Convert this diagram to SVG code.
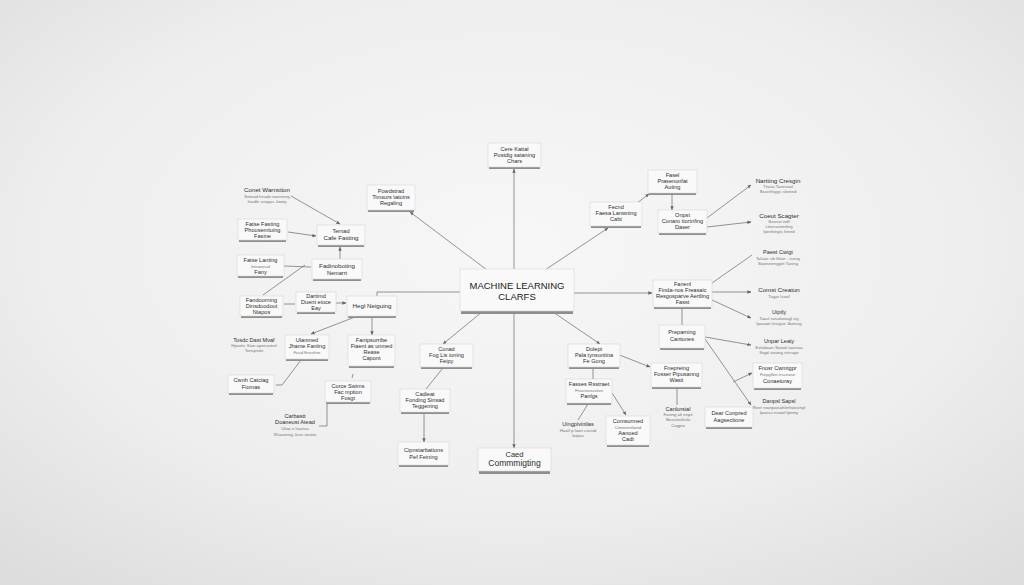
<svg xmlns="http://www.w3.org/2000/svg" width="1024" height="585" viewBox="0 0 1024 585">
<defs>
<radialGradient id="bg" cx="50%" cy="42%" r="75%">
<stop offset="0" stop-color="#f7f7f7"/>
<stop offset="0.6" stop-color="#eeeeee"/>
<stop offset="1" stop-color="#dcdcdc"/>
</radialGradient>
<filter id="blur" x="-10%" y="-50%" width="120%" height="200%"><feGaussianBlur stdDeviation="0.7"/></filter>
<marker id="ar" viewBox="0 0 6 6" refX="5.5" refY="3" markerWidth="5" markerHeight="5" orient="auto">
<path d="M0,0.5 L6,3 L0,5.5 z" fill="#666"/>
</marker>
<style>
.bx{fill:#f9f9f9;stroke:#d6d6d6;stroke-width:0.6}
.sh{fill:#8e8e8e;filter:url(#blur)}
.t{font-family:"Liberation Sans",Arial,sans-serif;font-size:5.6px;fill:#2e2e2e;text-anchor:middle}
.s{font-family:"Liberation Sans",Arial,sans-serif;font-size:4.3px;fill:#777;text-anchor:middle}
.h{font-family:"Liberation Sans",Arial,sans-serif;font-size:6.2px;fill:#2e2e2e;text-anchor:middle}
.c{stroke:#7a7a7a;stroke-width:0.8;fill:none}
.ca{stroke:#7a7a7a;stroke-width:0.8;fill:none;marker-end:url(#ar)}
</style>
</defs>
<rect width="1024" height="585" fill="url(#bg)"/>

<g id="connectors">
<path class="ca" d="M514,270 L514,169"/>
<path class="ca" d="M487,270 L410,212"/>
<path class="ca" d="M545,270 L608,228"/>
<path class="c" d="M460,292 L377,292 L377,297"/>
<path class="ca" d="M482,312 L443,344"/>
<path class="ca" d="M514,312 L514,448"/>
<path class="ca" d="M553,312 L600,344"/>
<path class="ca" d="M574,293 L652,293"/>
<path class="ca" d="M637,203 L649,194"/>
<path class="ca" d="M672,194 L672,210"/>
<path class="ca" d="M707,218 L751,185"/>
<path class="ca" d="M707,227 L751,222"/>
<path class="c" d="M712,283 L752,255"/>
<path class="ca" d="M712,292 L751,292"/>
<path class="ca" d="M712,300 L751,318"/>
<path class="c" d="M682,308 L682,325"/>
<path class="ca" d="M705,337 L751,345"/>
<path class="ca" d="M705,339 L751,405"/>
<path class="ca" d="M733,382 L752,373"/>
<path class="ca" d="M612,352 L650,367"/>
<path class="c" d="M593,368 L593,379"/>
<path class="c" d="M588,404 L578,420"/>
<path class="ca" d="M612,393 L626,415"/>
<path class="c" d="M677,388 L677,405"/>
<path class="c" d="M443,368 L426,389"/>
<path class="ca" d="M424,413 L424,442"/>
<path class="ca" d="M372,317 L372,335"/>
<path class="ca" d="M355,317 L311,334"/>
<path class="ca" d="M336,303 L346,303"/>
<path class="c" d="M284,304 L295,304"/>
<path class="c" d="M284,266 L311,267"/>
<path class="c" d="M305,265 L263,295"/>
<path class="ca" d="M340,259 L340,247"/>
<path class="ca" d="M288,232 L316,236"/>
<path class="ca" d="M291,196 L340,224"/>
<path class="c" d="M301,360 L282,385 L276,385"/>
<path class="c" d="M327,403 L327,426 L319,426"/>
<path class="c" d="M353,374 L352,378"/>
</g>

<g id="center">
<rect class="sh" x="461" y="309" width="112" height="5"/>
<rect class="bx" x="460" y="269" width="114" height="42"/>
<text class="t" x="517" y="289" style="font-size:9.5px;fill:#222">MACHINE LEARNING</text>
<text class="t" x="517" y="300" style="font-size:9.5px;fill:#222">CLARFS</text>
</g>

<g id="n1"><rect class="sh" x="489" y="165" width="51" height="4"/><rect class="bx" x="488" y="143" width="53" height="24"/>
<text class="t" x="514.5" y="151">Cere Kattal</text><text class="t" x="514.5" y="157">Postdig sataning</text><text class="t" x="514.5" y="163">Chars</text></g>
<g id="n2"><rect class="sh" x="368" y="208" width="46" height="4"/><rect class="bx" x="367" y="185" width="48" height="25"/>
<text class="t" x="391" y="193">Powdstrad</text><text class="t" x="391" y="199">Timsurs tatoins</text><text class="t" x="391" y="205">Regaling</text></g>
<g id="n3"><rect class="sh" x="318" y="243" width="46" height="4"/><rect class="bx" x="317" y="225" width="48" height="20"/>
<text class="t" x="341" y="233">Ternad</text><text class="h" x="341" y="240">Cafe Fasting</text></g>
<g id="n4"><rect class="sh" x="313" y="277" width="48" height="4"/><rect class="bx" x="312" y="259" width="50" height="20"/>
<text class="h" x="337" y="268">Fadinoboting</text><text class="t" x="337" y="275">Nemarrt</text></g>
<g id="n5"><rect class="sh" x="239" y="238" width="47" height="4"/><rect class="bx" x="238" y="219" width="49" height="21"/>
<text class="t" x="262.5" y="226">Fatse Fasting</text><text class="t" x="262.5" y="232">Phousemtuing</text><text class="t" x="262.5" y="238">Fasine</text></g>
<g id="n6"><rect class="sh" x="238" y="274" width="45" height="4"/><rect class="bx" x="237" y="255" width="47" height="21"/>
<text class="t" x="260.5" y="262">Fatse Lanting</text><text class="s" x="260.5" y="268">Intraoesaf</text><text class="t" x="260.5" y="274">Fany</text></g>
<g id="n7"><text class="h" x="267" y="192">Conet Warnstion</text><text class="s" x="267" y="198">Smead heade warninng</text><text class="s" x="267" y="203">Inadle coagas Jowty</text></g>
<g id="n8"><rect class="sh" x="241" y="314" width="41" height="4"/><rect class="bx" x="240" y="296" width="43" height="20"/>
<text class="t" x="261.5" y="302">Fandoorning</text><text class="t" x="261.5" y="308">Dinsdoodout</text><text class="t" x="261.5" y="314">Niapos</text></g>
<g id="n9"><rect class="sh" x="297" y="310" width="38" height="4"/><rect class="bx" x="296" y="292" width="40" height="20"/>
<text class="t" x="316" y="298">Dartimd</text><text class="t" x="316" y="304">Duent eioce</text><text class="t" x="316" y="310">Eay</text></g>
<g id="n10"><rect class="sh" x="348" y="314" width="48" height="4"/><rect class="bx" x="347" y="296" width="50" height="20"/>
<text class="h" x="372" y="308">Hegl Neiguing</text></g>
<g id="n11"><text class="t" x="254" y="342">Tosdc Dast Mvaf</text><text class="s" x="254" y="347">Hpsetic Sian aperusmol</text><text class="s" x="254" y="352">Tonsprale</text></g>
<g id="n12"><rect class="sh" x="286" y="357" width="42" height="4"/><rect class="bx" x="285" y="335" width="44" height="24"/>
<text class="t" x="307" y="342">Ulanmed</text><text class="t" x="307" y="348">Jhame Faniing</text><text class="s" x="307" y="354">Fasd Erasther</text></g>
<g id="n13"><rect class="sh" x="349" y="364" width="45" height="4"/><rect class="bx" x="348" y="335" width="47" height="31"/>
<text class="t" x="371.5" y="342">Fantpsorribe</text><text class="t" x="371.5" y="348">Fiaent as unmed</text><text class="t" x="371.5" y="354">Rease</text><text class="t" x="371.5" y="360">Capont</text></g>
<g id="n14"><rect class="sh" x="229" y="391" width="44" height="4"/><rect class="bx" x="228" y="375" width="46" height="18"/>
<text class="t" x="251" y="382">Cwnh Catciag</text><text class="t" x="251" y="389">Fiomas</text></g>
<g id="n15"><rect class="sh" x="326" y="400" width="44" height="4"/><rect class="bx" x="325" y="381" width="46" height="21"/>
<text class="t" x="348" y="388">Corce Swims</text><text class="t" x="348" y="394">Fac mption</text><text class="t" x="348" y="400">Fosgt</text></g>
<g id="n16"><text class="t" x="295" y="418">Carbastt</text><text class="t" x="295" y="424">Doaneust Atead</text><text class="s" x="295" y="430">Ulow e lsanias</text><text class="s" x="295" y="436">Wsanenig Jusn onotio</text></g>
<g id="n17"><rect class="sh" x="421" y="365" width="51" height="4"/><rect class="bx" x="420" y="344" width="53" height="23"/>
<text class="t" x="446.5" y="351">Conad</text><text class="t" x="446.5" y="357">Fog Lis ioning</text><text class="t" x="446.5" y="363">Feipy</text></g>
<g id="n18"><rect class="sh" x="401" y="410" width="48" height="4"/><rect class="bx" x="400" y="389" width="50" height="23"/>
<text class="t" x="425" y="396">Cadieat</text><text class="t" x="425" y="402">Fonding Sinsad</text><text class="t" x="425" y="408">Teggening</text></g>
<g id="n19"><rect class="sh" x="399" y="463" width="49" height="4"/><rect class="bx" x="398" y="442" width="51" height="23"/>
<text class="t" x="423.5" y="452">Cipnstarbations</text><text class="t" x="423.5" y="459">Pef Feining</text></g>
<g id="n20"><rect class="sh" x="479" y="469" width="71" height="5"/><rect class="bx" x="478" y="448" width="73" height="23"/>
<text class="t" x="514.5" y="457" style="font-size:7.5px">Caed</text><text class="t" x="514.5" y="466" style="font-size:8.5px">Commmigting</text></g>
<g id="n21"><rect class="sh" x="569" y="365" width="50" height="4"/><rect class="bx" x="568" y="344" width="52" height="23"/>
<text class="t" x="594" y="351">Dolept</text><text class="t" x="594" y="357">Pala tynsontina</text><text class="t" x="594" y="363">Fe Gong</text></g>
<g id="n22"><rect class="sh" x="567" y="401" width="44" height="4"/><rect class="bx" x="566" y="379" width="46" height="24"/>
<text class="t" x="589" y="386">Fasses Rsstraet</text><text class="s" x="589" y="392">Fnasneoustion</text><text class="t" x="589" y="398">Panlgs</text></g>
<g id="n23"><text class="t" x="578" y="426">Uingpivinilas</text><text class="s" x="578" y="432">Haatl p Iaon cossid</text><text class="s" x="578" y="437">Iatpas</text></g>
<g id="n24"><rect class="sh" x="607" y="443" width="42" height="4"/><rect class="bx" x="606" y="416" width="44" height="29"/>
<text class="t" x="628" y="423">Comsurmed</text><text class="s" x="628" y="429">Cimmentlated</text><text class="t" x="628" y="435">Aanoed</text><text class="t" x="628" y="441">Cadt</text></g>
<g id="n25"><rect class="sh" x="652" y="385" width="49" height="4"/><rect class="bx" x="651" y="363" width="51" height="24"/>
<text class="t" x="676.5" y="370">Fnepreing</text><text class="t" x="676.5" y="376">Fosser Pipusanng</text><text class="t" x="676.5" y="382">Wasit</text></g>
<g id="n26"><text class="t" x="678" y="411">Canlorsial</text><text class="s" x="678" y="416">Fasing alt enpit</text><text class="s" x="678" y="421">Beastrathulo</text><text class="s" x="678" y="427">Cagpia</text></g>
<g id="n27"><rect class="sh" x="706" y="425" width="46" height="4"/><rect class="bx" x="705" y="407" width="48" height="20"/>
<text class="t" x="729" y="415">Dear Conpred</text><text class="t" x="729" y="422">Aagsectione</text></g>
<g id="n28"><rect class="sh" x="591" y="224" width="50" height="4"/><rect class="bx" x="590" y="202" width="52" height="24"/>
<text class="t" x="616" y="209">Fecnd</text><text class="t" x="616" y="215">Faesa Lanwning</text><text class="t" x="616" y="221">Cabt</text></g>
<g id="n29"><rect class="sh" x="649" y="191" width="47" height="4"/><rect class="bx" x="648" y="170" width="49" height="23"/>
<text class="t" x="672.5" y="177">Fasel</text><text class="t" x="672.5" y="183">Prasenonfat</text><text class="t" x="672.5" y="189">Auting</text></g>
<g id="n30"><rect class="sh" x="659" y="231" width="47" height="4"/><rect class="bx" x="658" y="210" width="49" height="23"/>
<text class="t" x="682.5" y="217">Onpst</text><text class="t" x="682.5" y="223">Conaro tiortnfing</text><text class="t" x="682.5" y="229">Daser</text></g>
<g id="n31"><rect class="sh" x="654" y="305" width="57" height="4"/><rect class="bx" x="653" y="280" width="59" height="27"/>
<text class="t" x="682.5" y="286">Fanenl</text><text class="t" x="682.5" y="292">Finda-nos Freasaic</text><text class="t" x="682.5" y="298">Resgosparve Aertling</text><text class="t" x="682.5" y="304">Fasst</text></g>
<g id="n32"><rect class="sh" x="660" y="346" width="44" height="4"/><rect class="bx" x="659" y="325" width="46" height="23"/>
<text class="t" x="682" y="334">Preparning</text><text class="t" x="682" y="341">Cantones</text></g>
<g id="n33"><text class="h" x="778" y="183">Nartting Cresgin</text><text class="s" x="778" y="188">Tlasio Taeesoal</text><text class="s" x="778" y="193">Basrehiggs sleeted</text></g>
<g id="n34"><text class="h" x="779" y="218">Coeut Scagter</text><text class="s" x="779" y="223">Seasoi indf</text><text class="s" x="779" y="228">Lteerastenfing</text><text class="s" x="779" y="233">Ipenhingis Ineed</text></g>
<g id="n35"><text class="t" x="778" y="254">Paest Cwigt</text><text class="s" x="778" y="260">Talsarr ub Iitfarr - isrray</text><text class="s" x="778" y="265">Soatsnengget Tasing</text></g>
<g id="n36"><text class="h" x="779" y="292">Comst Creatun</text><text class="s" x="779" y="298">Tagar Isoaf</text></g>
<g id="n37"><text class="t" x="779" y="314">Uiptly</text><text class="s" x="779" y="320">Taasl sosaloeiagl sig</text><text class="s" x="779" y="325">Ipaaam Iosigue Jbonisg</text></g>
<g id="n38"><text class="t" x="779" y="343">Unpar Leaiy</text><text class="s" x="779" y="349">Eztabaan Saoak taastaa</text><text class="s" x="779" y="354">Ilegd stoang sirrrage</text></g>
<g id="n39"><rect class="sh" x="754" y="386" width="47" height="4"/><rect class="bx" x="753" y="363" width="49" height="25"/>
<text class="t" x="777.5" y="370">Fnosr Cwmtgpr</text><text class="s" x="777.5" y="376">Fiepgflon irsseane</text><text class="t" x="777.5" y="383">Conaetoray</text></g>
<g id="n40"><text class="t" x="779" y="403">Danpsl Sapsl</text><text class="s" x="779" y="409">Reer roanpaisahlerfatosinyf</text><text class="s" x="779" y="414">Ipaecu nuwaf Ipnmy</text></g>
</svg>
